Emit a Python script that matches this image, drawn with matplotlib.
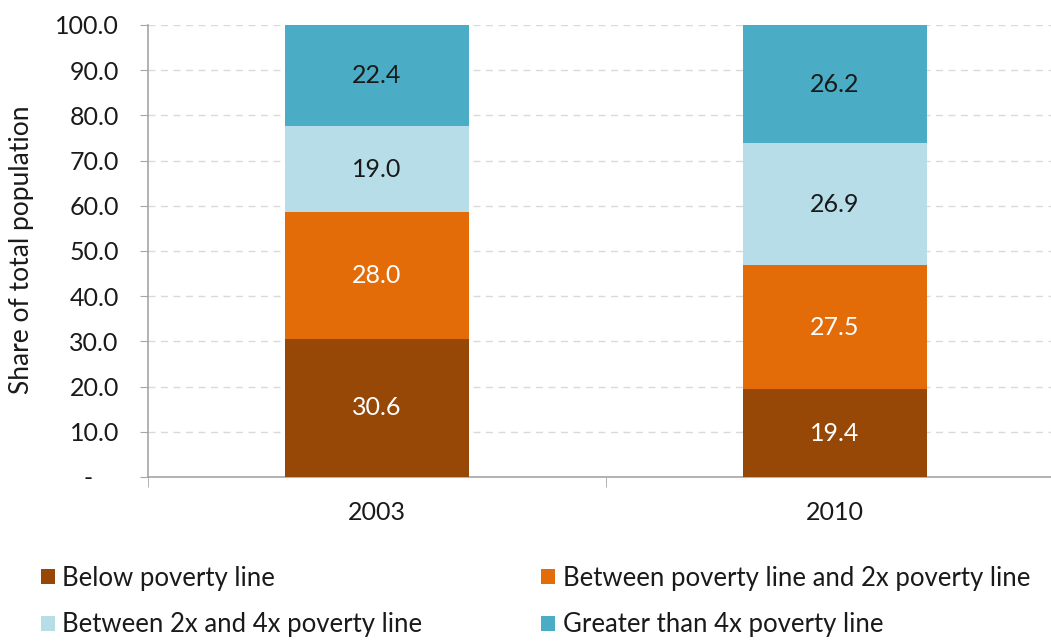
import matplotlib.pyplot as plt
import numpy as np

plt.rcParams['font.family'] = ['Lato', 'DejaVu Sans']

years = ['2003', '2010']
below = [30.6, 19.4]
pov_2x = [28.0, 27.5]
x2_4x = [19.0, 26.9]
over_4x = [22.4, 26.2]

series = [
    ('Below poverty line', below, '#974807', 'white'),
    ('Between poverty line and 2x poverty line', pov_2x, '#E36C09', 'white'),
    ('Between 2x and 4x poverty line', x2_4x, '#B7DEE8', '#1a1a1a'),
    ('Greater than 4x poverty line', over_4x, '#4BACC6', '#1a1a1a'),
]

fig = plt.figure(figsize=(10.51, 6.41), dpi=100)
W, H = 1051, 641
ax = fig.add_axes([148 / W, 1 - 477 / H, (1064 - 148) / W, (477 - 25) / H])

x = np.arange(len(years))
bottom = np.zeros(len(years))
handles = {}
for name, vals, color, tcolor in series:
    vals = np.array(vals)
    bars = ax.bar(x, vals, width=0.40, bottom=bottom, color=color, zorder=3, label=name)
    handles[name] = bars
    for xi, b, v in zip(x, bottom, vals):
        ax.text(xi, b + v / 2, f'{v:.1f}', ha='center', va='center',
                color=tcolor, fontsize=18, zorder=4)
    bottom += vals

ax.set_xlim(-0.5, 1.5)
ax.set_ylim(0, 100)
ax.set_yticks(np.arange(0, 101, 10))
ax.set_yticklabels(['-    '] + [f'{v:.1f}' for v in range(10, 101, 10)])
ax.yaxis.grid(True, linestyle=(0, (5, 4)), color='#dadada', linewidth=1, zorder=0)
ax.set_axisbelow(True)

# category labels centred, tick marks on the category boundaries
ax.set_xticks(x)
ax.set_xticklabels(years)
ax.set_xticks([-0.5, 0.5, 1.5], minor=True)
ax.tick_params(axis='x', which='major', length=0, pad=17, labelsize=18, labelcolor='#1a1a1a')
ax.tick_params(axis='x', which='minor', length=7, color='#a6a6a6', direction='out')
ax.tick_params(axis='y', length=6, color='#a6a6a6', labelsize=18, labelcolor='#1a1a1a', pad=15)

for s in ['top', 'right']:
    ax.spines[s].set_visible(False)
for s in ['left', 'bottom']:
    ax.spines[s].set_color('#a6a6a6')
    ax.spines[s].set_linewidth(1.2)

fig.text(22 / W, 1 - 250 / H, 'Share of total population', rotation=90,
         ha='center', va='center', fontsize=19, color='#1a1a1a')

order = [series[0][0], series[2][0], series[1][0], series[3][0]]
fig.legend([handles[n] for n in order], order, ncol=2, frameon=False,
           loc='upper left', bbox_to_anchor=(20 / W, 1 - 545 / H),
           fontsize=18.5, handlelength=0.55, handleheight=0.55, handletextpad=0.3,
           columnspacing=4.6, labelspacing=0.85, borderpad=0.3, labelcolor='#1a1a1a')

fig.savefig('out.png', dpi=100)
